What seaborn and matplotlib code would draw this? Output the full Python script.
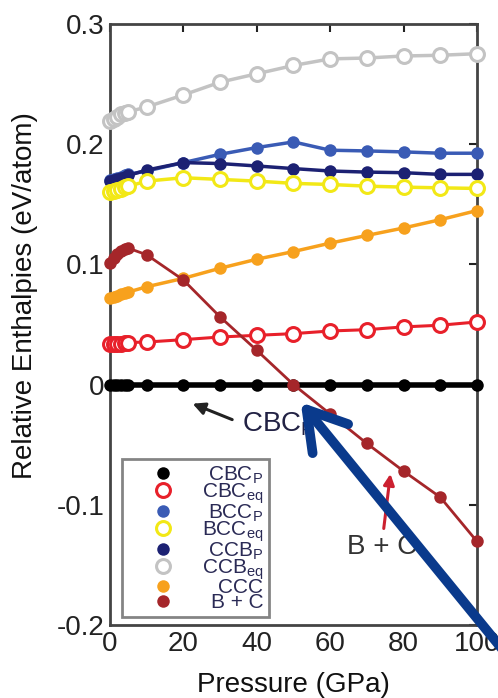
import numpy as np
import pandas as pd
import seaborn as sns
import matplotlib
matplotlib.use("Agg")
import matplotlib.pyplot as plt
from matplotlib.lines import Line2D

pressure = [0, 1, 2, 3, 4, 5, 10, 20, 30, 40, 50, 60, 70, 80, 90, 100]
cbc_p = [0, 0, 0, 0, 0, 0, 0, 0, 0, 0, 0, 0, 0, 0, 0, 0]
cbc_eq = [0.034, 0.034, 0.034, 0.034, 0.035, 0.035, 0.0354, 0.0374, 0.0396, 0.041,
          0.0424, 0.0446, 0.0457, 0.048, 0.0494, 0.0521]
bcc_p = [0.170, 0.171, 0.172, 0.173, 0.174, 0.175, 0.1777, 0.1847, 0.1916, 0.1972,
         0.2019, 0.195, 0.1944, 0.1936, 0.1925, 0.1925]
bcc_eq = [0.160, 0.161, 0.162, 0.163, 0.164, 0.165, 0.1693, 0.1721, 0.1707, 0.1693,
          0.1674, 0.1665, 0.1651, 0.1643, 0.1637, 0.1632]
ccb_p = [0.169, 0.170, 0.171, 0.172, 0.173, 0.174, 0.1785, 0.1847, 0.1839, 0.1819,
         0.1797, 0.1777, 0.1768, 0.1763, 0.1749, 0.1749]
ccb_eq = [0.219, 0.221, 0.223, 0.225, 0.226, 0.227, 0.231, 0.241, 0.2516, 0.2586,
          0.2655, 0.271, 0.2717, 0.2734, 0.274, 0.2753]
ccc = [0.0717, 0.073, 0.074, 0.075, 0.076, 0.077, 0.0814, 0.0884, 0.0968, 0.1043,
       0.1107, 0.1177, 0.1241, 0.1303, 0.1372, 0.1448]
b_c = [0.101, 0.105, 0.109, 0.111, 0.113, 0.1135, 0.108, 0.087, 0.0563, 0.0285,
       0.0, -0.0245, -0.049, -0.072, -0.0937, -0.1305]

labels = [r"CBC$_\mathregular{P}$", r"CBC$_\mathregular{eq}$", r"BCC$_\mathregular{P}$",
          r"BCC$_\mathregular{eq}$", r"CCB$_\mathregular{P}$", r"CCB$_\mathregular{eq}$",
          "CCC", "B + C"]
series = [cbc_p, cbc_eq, bcc_p, bcc_eq, ccb_p, ccb_eq, ccc, b_c]
colors = ["#000000", "#e8202a", "#3a5bb5", "#f2e816", "#1c2173", "#c3c3c3",
          "#f7a11d", "#a5262a"]
open_marker = [False, True, False, True, False, True, False, False]
lws = [4.0, 2.2, 2.5, 2.5, 2.5, 2.5, 2.5, 2.0]
xticks = [0, 20, 40, 60, 80, 100]
yticks = [-0.2, -0.1, 0, 0.1, 0.2, 0.3]
ytick_labels = ["-0.2", "-0.1", "0", "0.1", "0.2", "0.3"]

sns.set_theme(style="white")
plt.rcParams["font.family"] = ["Liberation Sans", "DejaVu Sans"]
plt.rcParams["mathtext.fontset"] = "custom"
plt.rcParams["mathtext.rm"] = "Liberation Sans"

fig = plt.figure(figsize=(4.98, 6.98), dpi=100)
ax = fig.add_axes([0.2209, 0.1046, 0.7369, 0.861])

draw_order = [5, 2, 4, 3, 6, 1, 0, 7]
handles = {}
for i in draw_order:
    df = pd.DataFrame({"x": pressure, "y": series[i]})
    c = colors[i]
    if open_marker[i]:
        mk = dict(marker="o", markersize=10, markerfacecolor="white",
                  markeredgecolor=c, markeredgewidth=2.2)
    else:
        mk = dict(marker="o", markersize=9, markerfacecolor=c,
                  markeredgecolor=c, markeredgewidth=0)
    sns.lineplot(data=df, x="x", y="y", ax=ax, color=c, linewidth=lws[i],
                 clip_on=False, zorder=3 + draw_order.index(i) * 0.1, **mk)
    handles[i] = Line2D([], [], linestyle="none", **mk)

ax.set_xlim(0, 100)
ax.set_ylim(-0.2, 0.3)
ax.set_xticks(xticks)
ax.set_xticklabels([str(t) for t in xticks])
ax.set_yticks(yticks)
ax.set_yticklabels(ytick_labels)
ax.tick_params(direction="in", length=6, width=1.5, top=True, right=True,
               labelsize=20, colors="#222222", pad=4)
for s in ax.spines.values():
    s.set_color("#444444")
    s.set_linewidth(2)
ax.set_xlabel("Pressure (GPa)", fontsize=20, labelpad=11, color="#111111")
ax.set_ylabel("Relative Enthalpies (eV/atom)", fontsize=20, color="#111111")
ax.yaxis.set_label_coords(-0.197, 0.548)

leg = ax.legend([handles[i] for i in range(8)], labels, loc="lower left",
                bbox_to_anchor=(0.033, 0.013), borderaxespad=0, fontsize=15,
                frameon=True, fancybox=False, labelspacing=-0.2,
                handletextpad=0.5, borderpad=0.25, handlelength=3.4)
leg.get_frame().set_edgecolor("#666666")
leg.get_frame().set_linewidth(2)
for t in leg.get_texts():
    t.set_color("#2a2a55")
# right-align label texts inside each legend row (marker stays at left)
for col in leg._legend_handle_box.get_children():
    for row in col.get_children():
        row.mode = "expand"
        row.width = 136

# annotations
ax.annotate("", xy=(21.8, -0.015), xytext=(34.0, -0.030),
            arrowprops=dict(arrowstyle="-|>", color="#222222", lw=2.2,
                            mutation_scale=18), zorder=6)
ax.text(36.0, -0.033, r"CBC$_\mathregular{P}$", fontsize=20, color="#222244",
        va="center", ha="left", zorder=6)
ax.annotate("", xy=(76.5, -0.072), xytext=(74.5, -0.122),
            arrowprops=dict(arrowstyle="-|>", color="#cc2030", lw=2.2,
                            mutation_scale=16), zorder=6)
ax.text(64.5, -0.135, "B + C", fontsize=20, color="#333333",
        va="center", ha="left", zorder=6)

# blue overlay arrow
ax.annotate("", xy=(51.5, -0.013), xycoords="data",
            xytext=(556, -17), textcoords="figure pixels",
            arrowprops=dict(arrowstyle="->,head_length=0.9,head_width=0.55",
                            color="#0a3a8c", lw=7, mutation_scale=30),
            annotation_clip=False, zorder=10)

fig.savefig("out.png", dpi=100)
